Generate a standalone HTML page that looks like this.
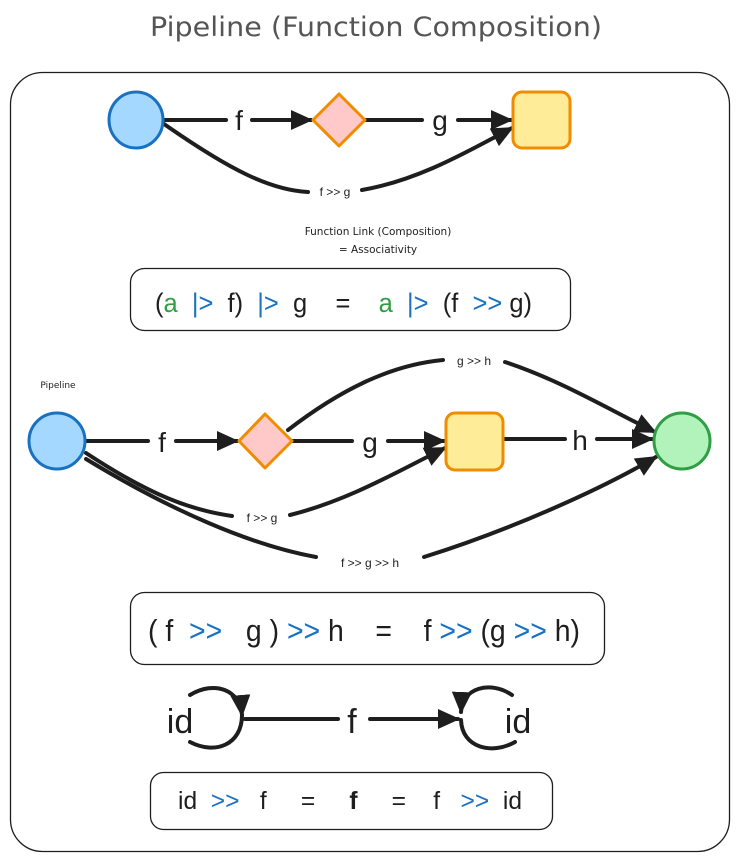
<!DOCTYPE html>
<html><head><style>
body{margin:0;background:#fff}
svg{display:block}
text{font-family:"Liberation Sans",sans-serif;fill:#1e1e1e}
</style></head><body>
<svg width="739" height="861" viewBox="0 0 739 861" xmlns="http://www.w3.org/2000/svg">
<defs>
<marker id="b" markerWidth="22" markerHeight="20" refX="20" refY="10" orient="auto" markerUnits="userSpaceOnUse">
<path d="M0,0 L22,10 L0,20 Z" fill="#1e1e1e"/></marker>
</defs>
<text x="150" y="36" font-size="27" textLength="452" lengthAdjust="spacingAndGlyphs" style="fill:#555;font-family:'DejaVu Sans',sans-serif">Pipeline (Function Composition)</text>
<rect x="10.5" y="72.5" width="719" height="779" rx="32" fill="none" stroke="#1e1e1e" stroke-width="1.3"/>

<g stroke="#1e1e1e" stroke-width="4" fill="none" stroke-linecap="round">
<line x1="164" y1="120" x2="226" y2="120"/>
<line x1="252" y1="120" x2="311" y2="120" marker-end="url(#b)"/>
<line x1="366" y1="120" x2="422" y2="120"/>
<line x1="458" y1="120" x2="511" y2="120" marker-end="url(#b)"/>
<path d="M164,124 C230,170 270,190 308,192"/>
<path d="M362,190 C420,180 470,150 512,128" marker-end="url(#b)"/>
<line x1="86" y1="441" x2="148" y2="441"/>
<line x1="176" y1="441" x2="237" y2="441" marker-end="url(#b)"/>
<line x1="293" y1="441" x2="352" y2="441"/>
<line x1="388" y1="441" x2="444" y2="441" marker-end="url(#b)"/>
<line x1="505" y1="439" x2="565" y2="439"/>
<line x1="597" y1="439" x2="652" y2="439" marker-end="url(#b)"/>
<path d="M288,430 C340,390 390,365 443,360"/>
<path d="M505,362 C560,380 610,410 655,432" marker-end="url(#b)"/>
<path d="M86,453 C150,495 190,510 232,516"/>
<path d="M290,515 C350,500 400,470 445,448" marker-end="url(#b)"/>
<path d="M86,459 C170,510 250,545 316,557"/>
<path d="M424,557 C510,530 600,490 656,457" marker-end="url(#b)"/>
<path d="M190,695 C215,680 240,690 242,715" marker-end="url(#b)"/>
<path d="M242,715 C242,745 215,755 190,742"/>
<line x1="245" y1="719" x2="338" y2="719"/>
<line x1="370" y1="719" x2="458" y2="719" marker-end="url(#b)"/>
<path d="M512,695 C490,680 462,688 461,712" marker-end="url(#b)"/>
<path d="M461,720 C462,748 492,755 515,742"/>
</g>

<ellipse cx="136" cy="120" rx="27" ry="28" fill="#a5d8ff" stroke="#1971c2" stroke-width="3"/>
<path d="M339,94 L365,120 L339,146 L313,120 Z" fill="#ffc9c9" stroke="#f08c00" stroke-width="3" stroke-linejoin="round"/>
<rect x="513" y="92" width="57" height="56" rx="9" fill="#ffec99" stroke="#f08c00" stroke-width="3"/>
<ellipse cx="57" cy="441" rx="28" ry="28" fill="#a5d8ff" stroke="#1971c2" stroke-width="3"/>
<path d="M265,414 L292,441 L265,468 L239,441 Z" fill="#ffc9c9" stroke="#f08c00" stroke-width="3" stroke-linejoin="round"/>
<rect x="446" y="413" width="57" height="57" rx="9" fill="#ffec99" stroke="#f08c00" stroke-width="3"/>
<ellipse cx="682" cy="441" rx="28" ry="28" fill="#b2f2bb" stroke="#2f9e44" stroke-width="3"/>

<text x="239" y="130" font-size="28" text-anchor="middle">f</text>
<text x="440" y="130" font-size="28" text-anchor="middle">g</text>
<text x="335" y="196" font-size="12" text-anchor="middle">f  &gt;&gt; g</text>
<text x="162" y="452" font-size="28" text-anchor="middle">f</text>
<text x="370" y="452" font-size="28" text-anchor="middle">g</text>
<text x="580" y="450" font-size="28" text-anchor="middle">h</text>
<text x="474" y="365" font-size="12" text-anchor="middle">g &gt;&gt; h</text>
<text x="262" y="522" font-size="12" text-anchor="middle">f  &gt;&gt; g</text>
<text x="370" y="567" font-size="12" text-anchor="middle">f  &gt;&gt; g  &gt;&gt; h</text>
<text x="58" y="388" font-size="9" text-anchor="middle" style="font-family:'DejaVu Sans',sans-serif">Pipeline</text>
<text x="378" y="235" font-size="10.5" text-anchor="middle" style="font-family:'DejaVu Sans',sans-serif">Function Link (Composition)</text>
<text x="378" y="253" font-size="10.5" text-anchor="middle" style="font-family:'DejaVu Sans',sans-serif">=   Associativity</text>

<rect x="130.5" y="268.5" width="440" height="62" rx="14" fill="none" stroke="#1e1e1e" stroke-width="1.3"/>
<text x="155" y="312" font-size="27" textLength="377" lengthAdjust="spacingAndGlyphs" xml:space="preserve">(<tspan style="fill:#2f9e44">a</tspan>  <tspan style="fill:#1971c2">|&gt;</tspan>  f)  <tspan style="fill:#1971c2">|&gt;</tspan>  g    =    <tspan style="fill:#2f9e44">a</tspan>  <tspan style="fill:#1971c2">|&gt;</tspan>  (f  <tspan style="fill:#1971c2">&gt;&gt;</tspan> g)</text>

<rect x="130.5" y="592.5" width="474" height="72" rx="14" fill="none" stroke="#1e1e1e" stroke-width="1.3"/>
<text x="148" y="641" font-size="31" textLength="432" lengthAdjust="spacingAndGlyphs" xml:space="preserve">( f  <tspan style="fill:#1971c2">&gt;&gt;</tspan>   g ) <tspan style="fill:#1971c2">&gt;&gt;</tspan> h    =    f <tspan style="fill:#1971c2">&gt;&gt;</tspan> (g <tspan style="fill:#1971c2">&gt;&gt;</tspan> h)</text>

<text x="180" y="733" font-size="34" text-anchor="middle">id</text>
<text x="352" y="733" font-size="34" text-anchor="middle">f</text>
<text x="518" y="733" font-size="34" text-anchor="middle">id</text>

<rect x="150.5" y="772.5" width="402" height="57" rx="13" fill="none" stroke="#1e1e1e" stroke-width="1.3"/>
<text x="178" y="809" font-size="25" textLength="344" lengthAdjust="spacingAndGlyphs" xml:space="preserve">id  <tspan style="fill:#1971c2">&gt;&gt;</tspan>   f     =     <tspan font-weight="bold">f</tspan>     =    f   <tspan style="fill:#1971c2">&gt;&gt;</tspan>  id</text>
</svg>
</body></html>
